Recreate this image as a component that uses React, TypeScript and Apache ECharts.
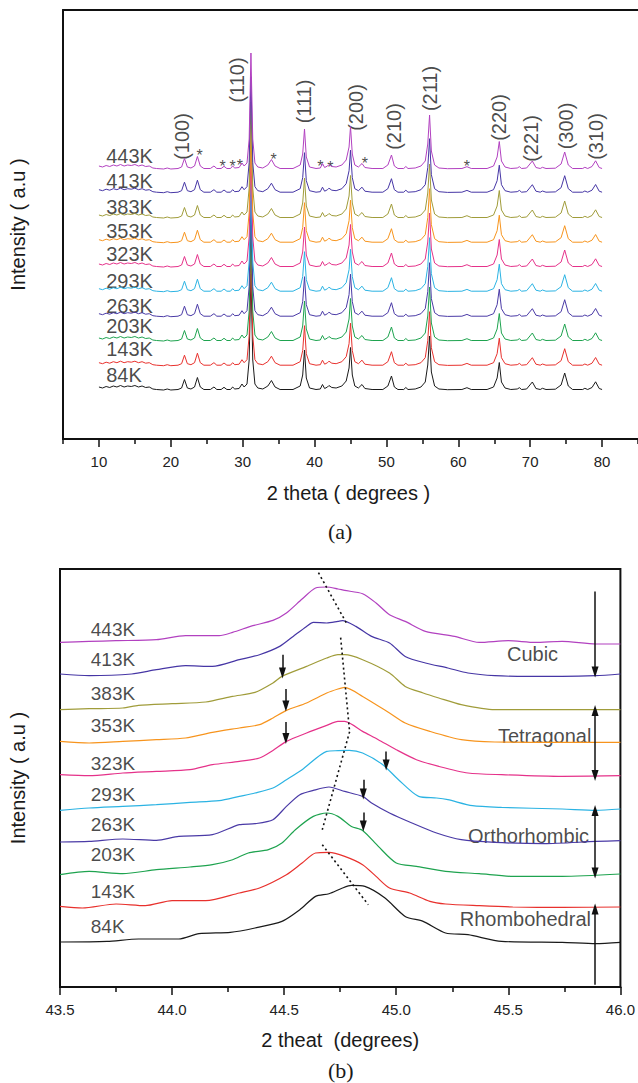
import React, { useEffect, useRef } from "react";
import * as echarts from "echarts";

const FONT = "'Liberation Sans', Arial, Helvetica, sans-serif";

const temps = ["84K", "143K", "203K", "263K", "293K", "323K", "353K", "383K", "413K", "443K"];
const colors = ["#1a1a1a", "#e8312d", "#1ea34f", "#4a3aa6", "#2bb3e3", "#e5328a", "#f7941d", "#a09c3a", "#4636a5", "#b241c0"];

// ---------- panel (a): full XRD pattern ----------
const patternA: [number, number][] = [
  [10, 3], [10.5, 2], [11, 3.5], [11.5, 2.5], [12, 4], [12.5, 3], [13, 4.5], [13.5, 3], [14, 4], [14.5, 3.5],
  [15, 4.5], [15.5, 3], [16, 4], [16.5, 2.5], [17, 3], [17.5, 1], [18, 0.5], [19, 0], [19.5, 1], [20, 0], [21, 0.5],
  [21.5, 2], [21.9, 10.5], [22.3, 2], [22.8, 1], [23.3, 3], [23.7, 12.5], [24.1, 3], [24.6, 0.5],
  [25.5, 0.5], [26.0, 3], [26.4, 0.5], [27.0, 0.5], [27.4, 2.7], [27.8, 0.5], [28.3, 0.5], [28.6, 3], [28.9, 1],
  [29.5, 1.5], [29.9, 6], [30.2, 3], [30.6, 6], [30.9, 30], [31.15, 116], [31.4, 30], [31.7, 6], [32.1, 2],
  [32.8, 1], [33.5, 4], [34.0, 9.5], [34.5, 3], [35.2, 0.5], [37.0, 0.5], [38.0, 4], [38.35, 15], [38.6, 40],
  [38.85, 12], [39.3, 2], [40.2, 0.5], [40.8, 1], [41.1, 5.5], [41.4, 1.5], [41.8, 3], [42.0, 4.5], [42.4, 2.5],
  [43.0, 2], [43.8, 4], [44.4, 9], [44.8, 22], [45.0, 42.5], [45.25, 15], [45.6, 4], [46.1, 2], [46.6, 5.5],
  [47.0, 1.5], [48.0, 0.5], [49.5, 0.5], [50.2, 4], [50.7, 14], [51.1, 3], [51.6, 0.5], [52.4, 0.5], [52.7, 2.5],
  [53.0, 0.5], [54.0, 1], [54.8, 3], [55.4, 8], [55.75, 25], [56.0, 54], [56.25, 18], [56.7, 4], [57.3, 1],
  [58.5, 0.3], [60.5, 0.5], [61.2, 2.3], [61.8, 0.5], [64.0, 0.5], [64.9, 3], [65.4, 12], [65.7, 27.5], [66.0, 8],
  [66.5, 2], [67.3, 0.5], [68.2, 1], [68.5, 2.3], [68.8, 0.5], [69.5, 1], [70.3, 8], [70.8, 1.5], [71.4, 0.5],
  [71.7, 1.7], [72.2, 0.5], [73.5, 0.8], [74.3, 5], [74.8, 17], [75.3, 4], [75.9, 0.5], [77.3, 0.5], [77.6, 1.7],
  [78.0, 0.5], [78.6, 2.5], [79.1, 8.2], [79.6, 1.5], [80, 0.5],
];
const baselineA = [49, 73.3, 98, 122.3, 147.3, 172, 196.3, 221, 246.3, 270];
const labelYA = [64.5, 89.8, 113.2, 133.2, 158.2, 185.5, 208.2, 232.3, 258.2, 283.2];
const labelXA = 10.94;

const hklNames = ["(100)", "(110)", "(111)", "(200)", "(210)", "(211)", "(220)", "(221)", "(300)", "(310)"];
const hklX = [21.5, 29.2, 38.5, 45.7, 51.1, 56.1, 65.7, 70.1, 75.0, 79.1];
const hklY = [302.5, 359, 337.5, 331.5, 312.5, 350.5, 321.5, 300.5, 313, 302.5];

const starX = [24.0, 27.2, 28.6, 29.6, 34.3, 40.8, 42.2, 47.0, 61.2];
const starY = [283.3, 272.7, 272.7, 274, 279.3, 272.7, 271.7, 275.7, 272.3];

const majorTicksA = [10, 20, 30, 40, 50, 60, 70, 80];
const minorTicksA = [5, 15, 25, 35, 45, 55, 65, 75, 85];

// ---------- panel (b): (200) region ----------
const b84: [number, number][] = [[43.50, 45], [43.71, 45.6], [43.85, 48], [44.03, 48], [44.12, 53.3], [44.26, 54.6], [44.37, 59], [44.49, 65.6], [44.57, 77.3], [44.64, 90.6], [44.70, 93.3], [44.76, 99], [44.80, 101.6], [44.86, 100.6], [44.95, 89], [45.04, 70.6], [45.12, 65.6], [45.22, 54], [45.32, 52.3], [45.47, 45.6], [45.74, 44.6], [45.89, 43.3], [46.00, 44.6]];
const b143: [number, number][] = [[43.50, 80.6], [43.60, 79], [43.75, 83], [43.88, 81.3], [44.00, 86.3], [44.15, 86.3], [44.30, 94], [44.39, 99], [44.51, 112.3], [44.58, 124], [44.64, 134], [44.70, 134.6], [44.77, 130.6], [44.85, 122.3], [44.91, 110.6], [44.97, 99], [45.06, 94], [45.15, 85.6], [45.22, 83], [45.37, 81.3], [45.52, 80], [45.74, 79.6], [46.00, 80]];
const b203: [number, number][] = [[43.50, 112.3], [43.63, 115.6], [43.78, 113.3], [43.93, 117.3], [44.08, 120], [44.18, 122.3], [44.27, 127.3], [44.34, 134], [44.43, 137.3], [44.49, 144], [44.55, 157.3], [44.63, 170.6], [44.69, 174], [44.74, 170.6], [44.80, 160.6], [44.85, 156.6], [44.92, 140.6], [45.00, 124], [45.09, 120.6], [45.22, 115.6], [45.37, 113.3], [45.52, 110.6], [45.74, 110.6], [46.00, 113]];
const b263: [number, number][] = [[43.50, 145], [43.63, 145.6], [43.78, 148], [43.93, 146.6], [44.03, 150.6], [44.18, 152.3], [44.30, 162.3], [44.37, 163.3], [44.45, 167.3], [44.51, 180.6], [44.57, 192.3], [44.63, 196.6], [44.70, 200], [44.77, 195.6], [44.85, 190.6], [44.89, 184], [44.97, 174], [45.07, 164], [45.18, 154], [45.29, 147.3], [45.44, 144.6], [45.66, 143.3], [45.89, 145.6], [46.00, 146.3]];
const b293: [number, number][] = [[43.50, 176.6], [43.63, 179], [43.78, 180.6], [43.93, 182.3], [44.08, 184.6], [44.21, 186.3], [44.30, 190.6], [44.37, 194], [44.45, 199], [44.51, 207.3], [44.58, 217.3], [44.69, 235.6], [44.74, 236.3], [44.79, 236.6], [44.85, 234], [44.94, 222.3], [45.01, 207.3], [45.10, 190.6], [45.18, 189], [45.23, 187.3], [45.34, 181.3], [45.47, 179.6], [45.74, 178], [45.89, 176.6], [46.00, 178]];
const b323: [number, number][] = [[43.50, 212.3], [43.63, 211.3], [43.78, 214], [43.93, 215.6], [44.08, 217.3], [44.18, 222.3], [44.30, 225.6], [44.39, 229], [44.45, 236.6], [44.51, 245.6], [44.60, 254], [44.69, 261.6], [44.74, 265.6], [44.77, 265.6], [44.85, 255.6], [44.92, 247.3], [45.00, 237.3], [45.09, 227.3], [45.19, 220.6], [45.32, 214], [45.47, 212.3], [45.74, 210.6], [46.00, 211.3]];
const b353: [number, number][] = [[43.50, 245.6], [43.63, 244], [43.78, 245.6], [43.93, 247.3], [44.06, 249], [44.18, 254.6], [44.30, 259], [44.39, 262.3], [44.45, 269], [44.51, 276.6], [44.60, 284], [44.69, 294], [44.74, 298], [44.77, 299.6], [44.85, 290.6], [44.97, 274], [45.04, 264], [45.15, 255.6], [45.29, 247.3], [45.44, 245], [45.74, 244.6], [46.00, 244.6]];
const b383: [number, number][] = [[43.50, 277.3], [43.63, 278.3], [43.78, 279], [43.85, 281.6], [44.00, 283.3], [44.15, 285], [44.27, 290.6], [44.37, 294.6], [44.45, 304], [44.49, 310.6], [44.60, 320.6], [44.69, 329], [44.74, 332.3], [44.77, 332.3], [44.85, 327.3], [44.97, 314], [45.04, 300.6], [45.12, 294], [45.19, 289], [45.29, 282.3], [45.44, 277.3], [45.74, 277.3], [46.00, 277.3]];
const b413: [number, number][] = [[43.50, 313], [43.63, 311.3], [43.82, 313], [43.93, 317.3], [44.06, 321.3], [44.18, 320.6], [44.30, 327.3], [44.39, 332.3], [44.48, 340.6], [44.54, 350.6], [44.60, 360.6], [44.63, 364.6], [44.69, 364], [44.74, 365.6], [44.76, 366.3], [44.82, 360.6], [44.89, 350.6], [44.97, 344], [45.04, 330.6], [45.13, 324], [45.23, 319], [45.32, 314], [45.44, 311.3], [45.59, 310.6], [45.74, 310.6], [45.89, 311.3], [46.00, 313]];
const b443: [number, number][] = [[43.50, 344.6], [43.63, 345.6], [43.75, 346.3], [43.93, 347.3], [44.06, 351.3], [44.21, 351.3], [44.27, 354.6], [44.36, 361.3], [44.45, 366.6], [44.51, 374], [44.58, 388], [44.64, 399], [44.69, 400], [44.74, 398], [44.77, 396.6], [44.85, 393.3], [44.91, 384], [44.97, 372.3], [45.04, 365.6], [45.13, 355.6], [45.26, 350.6], [45.37, 344.6], [45.50, 346.3], [45.62, 344.6], [45.74, 345.6], [45.89, 343], [46.00, 343]];
const curvesB = [b84, b143, b203, b263, b293, b323, b353, b383, b413, b443];

const labelYB = [60.6, 95.6, 132.3, 162.3, 192.3, 224, 261.6, 294, 327.3, 357.3];
const labelXB = 43.635;

const phaseNames = ["Cubic", "Tetragonal", "Orthorhombic", "Rhombohedral"];
const phaseX = [45.608, 45.662, 45.59, 45.576];
const phaseY = [333, 251.3, 150.6, 68.3];

// short arrows: [x, yFrom, yTo]
const shortArrows: [number, number, number][] = [
  [44.4925, 332.3, 314], [44.5076, 298, 281], [44.5076, 265, 248.5],
  [44.955, 235.6, 222], [44.853, 207.3, 193], [44.853, 174.6, 161],
];
// phase range arrows: [x, yFrom, yTo, arrowAtStart, arrowAtEnd]
const rangeX = 45.887;
const rangeArrows: [number, number, number, boolean, boolean][] = [
  [rangeX, 395.6, 315, false, true],
  [rangeX, 276.5, 211.5, true, true],
  [rangeX, 176.5, 114, true, true],
  [rangeX, 2.3, 78, false, true],
];
// dotted guide: polylines of [x, y]
const dottedGuide: [number, number][][] = [
  [[44.653, 414.3], [44.782, 362.3]],
  [[44.752, 349.3], [44.792, 255.3], [44.67, 157.3]],
  [[44.67, 142.3], [44.875, 82.3]],
];

const majorTicksB = [43.5, 44.0, 44.5, 45.0, 45.5, 46.0];
const minorTicksB = [43.75, 44.25, 44.75, 45.25, 45.75];

export default function App() {
  const ref = useRef<HTMLDivElement>(null);
  useEffect(() => {
    document.body.style.margin = "0";
    if (!ref.current) return;
    const chart = echarts.init(ref.current, undefined, { renderer: "svg" });

    const axisLineStyle = { color: "#111", width: 2 };
    const tickStyle = { color: "#111", width: 1.5 };
    const labelStyle = { fontSize: 15, color: "#222", fontFamily: FONT };

    const series: any[] = [];
    temps.forEach((t, i) => {
      series.push({
        type: "line", name: "a" + t, xAxisIndex: 0, yAxisIndex: 0,
        data: patternA.map(([x, y]) => [x, y + baselineA[i]]),
        showSymbol: false, symbol: "none", silent: true,
        lineStyle: { color: colors[i], width: 1 },
      });
    });
    series.push({
      type: "scatter", xAxisIndex: 0, yAxisIndex: 0, symbolSize: 1, silent: true,
      itemStyle: { color: "transparent" },
      data: temps.map((t, i) => ({ name: t, value: [labelXA, labelYA[i]] })),
      label: { show: true, position: "right", distance: 0, formatter: "{b}", fontSize: 20, color: "#1a1a1a", fontFamily: FONT },
    });
    series.push({
      type: "scatter", xAxisIndex: 0, yAxisIndex: 0, symbolSize: 1, silent: true,
      itemStyle: { color: "transparent" },
      data: hklNames.map((n, i) => ({ name: n, value: [hklX[i], hklY[i]] })),
      label: { show: true, position: "inside", rotate: 90, formatter: "{b}", fontSize: 20, color: "#1a1a1a", fontFamily: FONT },
    });
    series.push({
      type: "scatter", xAxisIndex: 0, yAxisIndex: 0, symbolSize: 1, silent: true,
      itemStyle: { color: "transparent" },
      data: starX.map((x, i) => ({ name: "*", value: [x, starY[i]] })),
      label: { show: true, position: "inside", formatter: "*", fontSize: 16, color: "#1a1a1a", fontFamily: FONT },
    });

    temps.forEach((t, i) => {
      series.push({
        type: "line", name: "b" + t, xAxisIndex: 2, yAxisIndex: 1,
        data: curvesB[i], smooth: 0.25, showSymbol: false, symbol: "none", silent: true,
        lineStyle: { color: colors[i], width: 1.2 },
      });
    });

    const dottedLines: any[] = [];
    dottedGuide.forEach((pl) => {
      for (let k = 0; k < pl.length - 1; k++) {
        dottedLines.push([{ coord: pl[k], symbol: "none" }, { coord: pl[k + 1], symbol: "none" }]);
      }
    });
    series.push({
      type: "scatter", xAxisIndex: 2, yAxisIndex: 1, symbolSize: 1, silent: true,
      itemStyle: { color: "transparent" },
      data: temps.map((t, i) => ({ name: t, value: [labelXB, labelYB[i]] })),
      label: { show: true, position: "right", distance: 0, formatter: "{b}", fontSize: 19, color: "#1a1a1a", fontFamily: FONT },
      markLine: {
        silent: true, animation: false, symbol: "none",
        label: { show: false },
        lineStyle: { color: "#111", width: 1.6, type: [2, 3] },
        data: dottedLines,
      },
    });

    const arrowLines: any[] = [];
    shortArrows.forEach(([x, y1, y2]) => {
      arrowLines.push([{ coord: [x, y1], symbol: "none" }, { coord: [x, y2], symbol: "triangle", symbolSize: [7, 11] }]);
    });
    rangeArrows.forEach(([x, y1, y2, s, e]) => {
      arrowLines.push([
        { coord: [x, y1], symbol: s ? "triangle" : "none", symbolSize: [7, 11] },
        { coord: [x, y2], symbol: e ? "triangle" : "none", symbolSize: [7, 11] },
      ]);
    });
    series.push({
      type: "scatter", xAxisIndex: 2, yAxisIndex: 1, symbolSize: 1, silent: true,
      itemStyle: { color: "transparent" },
      data: phaseNames.map((n, i) => ({ name: n, value: [phaseX[i], phaseY[i]] })),
      label: { show: true, position: "inside", formatter: "{b}", fontSize: 20, color: "#1a1a1a", fontFamily: FONT },
      markLine: {
        silent: true, animation: false,
        label: { show: false },
        lineStyle: { color: "#111", width: 1.5, type: "solid" },
        data: arrowLines,
      },
    });

    const option: any = {
      animation: false,
      backgroundColor: "#ffffff",
      textStyle: { fontFamily: FONT },
      grid: [
        { left: 63, top: 10, width: 576, height: 429, show: false },
        { left: 60, top: 569, width: 562, height: 418, show: true, borderColor: "#111", borderWidth: 2, backgroundColor: "transparent" },
      ],
      xAxis: [
        {
          gridIndex: 0, type: "value", min: 5, max: 85, position: "bottom",
          axisLine: { lineStyle: axisLineStyle },
          axisTick: { customValues: majorTicksA, length: 8, lineStyle: tickStyle },
          axisLabel: { customValues: majorTicksA, margin: 15, ...labelStyle },
          splitLine: { show: false },
          name: "2 theta ( degrees )", nameLocation: "middle", nameGap: 44,
          nameTextStyle: { fontSize: 20, color: "#1a1a1a", fontFamily: FONT, padding: [0, 4, 0, 0] },
        },
        {
          gridIndex: 0, type: "value", min: 5, max: 85, position: "bottom",
          axisLine: { show: false },
          axisTick: { customValues: minorTicksA, length: 5, lineStyle: tickStyle },
          axisLabel: { show: false }, splitLine: { show: false },
        },
        {
          gridIndex: 1, type: "value", min: 43.5, max: 46.0, position: "bottom",
          axisLine: { lineStyle: axisLineStyle },
          axisTick: { customValues: majorTicksB, length: 8, lineStyle: tickStyle },
          axisLabel: { customValues: majorTicksB, margin: 15, formatter: (v: number) => v.toFixed(1), ...labelStyle },
          splitLine: { show: false },
          name: "2 theat  (degrees)", nameLocation: "middle", nameGap: 43,
          nameTextStyle: { fontSize: 20, color: "#1a1a1a", fontFamily: FONT },
        },
        {
          gridIndex: 1, type: "value", min: 43.5, max: 46.0, position: "bottom",
          axisLine: { show: false },
          axisTick: { customValues: minorTicksB, length: 5, lineStyle: tickStyle },
          axisLabel: { show: false }, splitLine: { show: false },
        },
        {
          gridIndex: 0, type: "value", min: 5, max: 85, position: "top",
          axisLine: { show: true, lineStyle: axisLineStyle },
          axisTick: { show: false }, axisLabel: { show: false }, splitLine: { show: false },
        },
      ],
      yAxis: [
        {
          gridIndex: 0, type: "value", min: 0, max: 429,
          axisLine: { show: true, lineStyle: axisLineStyle },
          axisTick: { show: false }, axisLabel: { show: false }, splitLine: { show: false },
          name: "Intensity ( a.u )", nameLocation: "middle", nameGap: 35, nameRotate: 90,
          nameTextStyle: { fontSize: 20, color: "#1a1a1a", fontFamily: FONT },
        },
        {
          gridIndex: 1, type: "value", min: 0, max: 418,
          axisLine: { show: true, lineStyle: axisLineStyle },
          axisTick: { show: false }, axisLabel: { show: false }, splitLine: { show: false },
          name: "Intensity ( a.u )", nameLocation: "middle", nameGap: 32, nameRotate: 90,
          nameTextStyle: { fontSize: 20, color: "#1a1a1a", fontFamily: FONT },
        },
      ],
      graphic: [
        { type: "text", left: 328, top: 520, style: { text: "(a)", fontSize: 22, fontFamily: "'Liberation Serif', 'Times New Roman', serif", fill: "#1a1a1a" } },
        { type: "text", left: 328, top: 1059, style: { text: "(b)", fontSize: 22, fontFamily: "'Liberation Serif', 'Times New Roman', serif", fill: "#1a1a1a" } },
      ],
      series,
    };
    chart.setOption(option);
    return () => chart.dispose();
  }, []);
  return <div ref={ref} style={{ width: 638, height: 1083 }} />;
}
